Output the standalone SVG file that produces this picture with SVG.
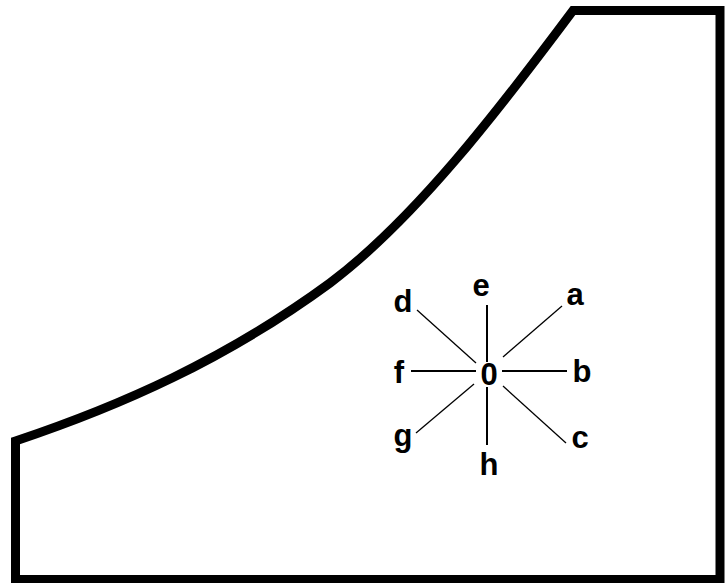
<svg xmlns="http://www.w3.org/2000/svg" width="725" height="583" viewBox="0 0 725 583">
<style>
.frame{fill:none;stroke:#000;stroke-width:9;stroke-linejoin:miter;stroke-linecap:square}
.ray{stroke:#000;fill:none}
.lbl{font-family:"Liberation Sans",Arial,sans-serif;font-size:31px;font-weight:bold;fill:#000;text-anchor:middle}
</style>
<rect width="725" height="583" fill="#fff"/>
<g id="outline">
<path class="frame" d="M15.5,441 C120,406 225,360 330,283 C415,219 498,111 573,10.5 L720,10.5 L720,579.5 L15.5,579.5 Z"/>
</g>
<g id="rays">
<line class="ray" stroke-width="2" x1="487" y1="305" x2="487" y2="362"/>
<line class="ray" stroke-width="2" x1="487" y1="387" x2="487" y2="445"/>
<line class="ray" stroke-width="2" x1="411" y1="371" x2="476" y2="371"/>
<line class="ray" stroke-width="2" x1="502" y1="371" x2="567" y2="371"/>
<line class="ray" stroke-width="1.3" x1="417" y1="310" x2="476" y2="363"/>
<line class="ray" stroke-width="1.3" x1="562" y1="306" x2="503" y2="357"/>
<line class="ray" stroke-width="1.3" x1="416" y1="433" x2="474" y2="384"/>
<line class="ray" stroke-width="1.3" x1="503" y1="386" x2="566" y2="443"/>
</g>
<g id="labels">
<text class="lbl" x="489" y="385">0</text>
<text class="lbl" x="481" y="296">e</text>
<text class="lbl" x="575" y="305">a</text>
<text class="lbl" x="403" y="312">d</text>
<text class="lbl" x="399" y="383">f</text>
<text class="lbl" x="582" y="382">b</text>
<text class="lbl" x="403" y="446">g</text>
<text class="lbl" x="489" y="475">h</text>
<text class="lbl" x="580" y="448">c</text>
</g>
</svg>
